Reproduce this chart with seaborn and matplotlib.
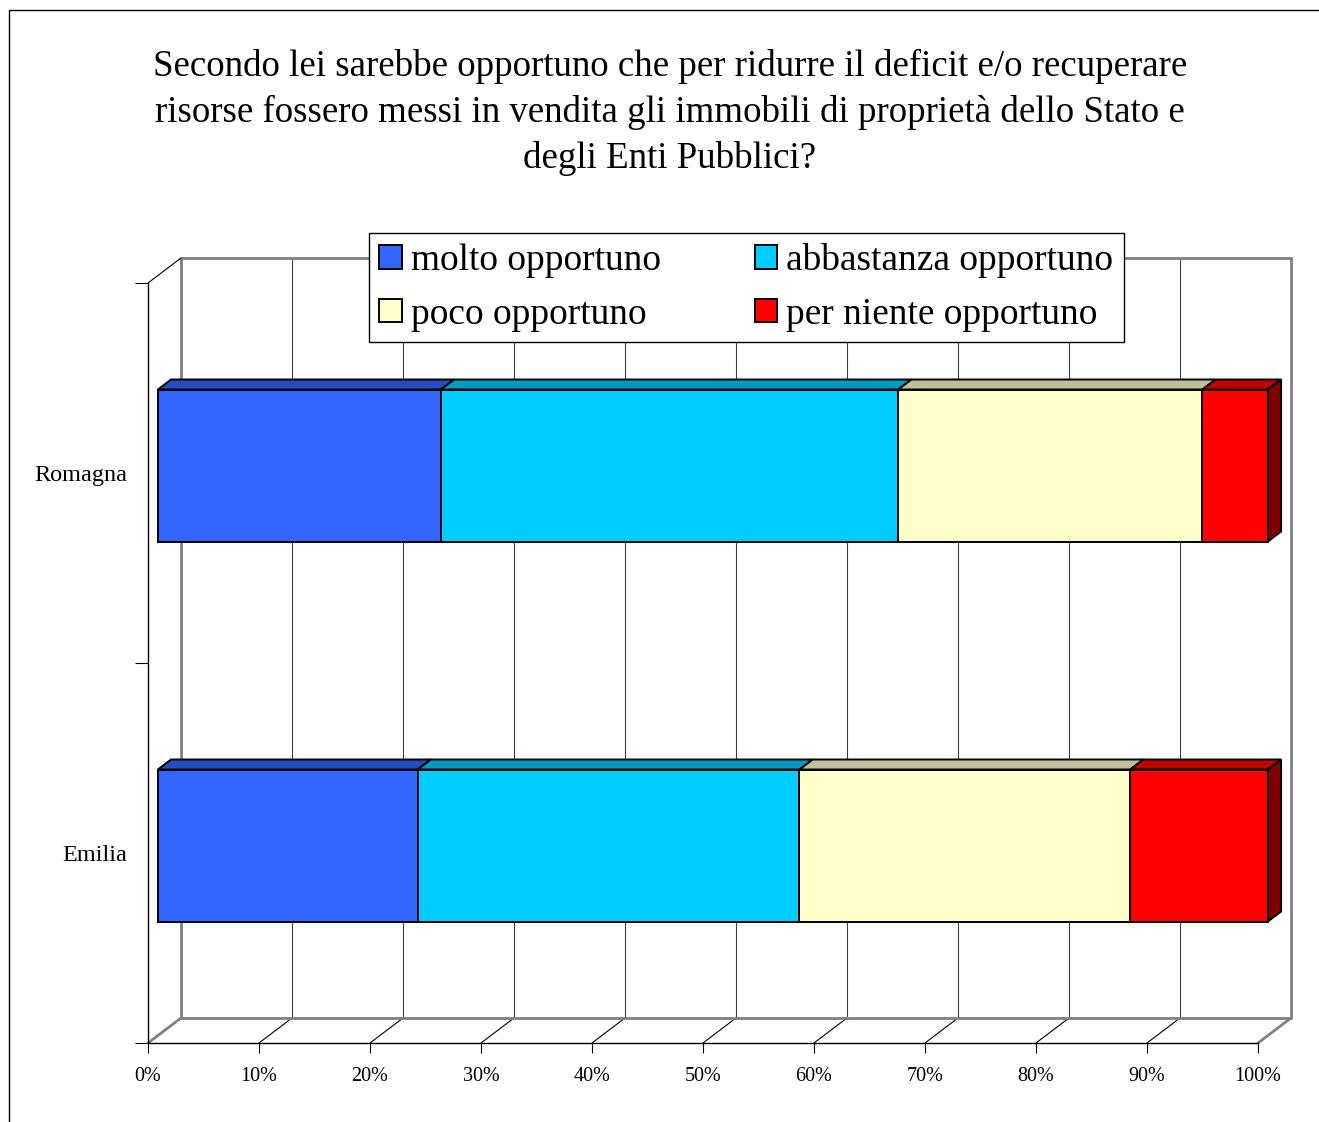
import numpy as np
import pandas as pd
import matplotlib
matplotlib.use("Agg")
import matplotlib.pyplot as plt
import matplotlib.transforms as mtransforms
from matplotlib.patches import Polygon
from matplotlib.lines import Line2D
import seaborn as sns

# ---- data -------------------------------------------------------------
regions = ["Romagna", "Emilia"]
series = ["molto opportuno", "abbastanza opportuno",
          "poco opportuno", "per niente opportuno"]
molto = [25.5, 23.4]
abbastanza = [41.2, 34.4]
poco = [27.4, 29.8]
per_niente = [5.9, 12.4]
colors = ["#3366FF", "#00CCFF", "#FFFFCC", "#FF0000"]
x_ticks = [0, 10, 20, 30, 40, 50, 60, 70, 80, 90, 100]
x_tick_labels = [f"{t}%" for t in x_ticks]
title = ("Secondo lei sarebbe opportuno che per ridurre il deficit e/o recuperare\n"
         "risorse fossero messi in vendita gli immobili di proprietà dello Stato e\n"
         "degli Enti Pubblici?")

values = np.array([molto, abbastanza, poco, per_niente])   # series x region
ends = np.cumsum(values, axis=0)
starts = ends - values

sns.set_theme(style="white")
plt.rcParams["font.family"] = ["Liberation Serif", "DejaVu Serif"]
plt.rcParams.update({"text.color": "black", "axes.labelcolor": "black",
                     "xtick.color": "black", "ytick.color": "black"})

W, H, DPI = 1319, 1122, 100
fig = plt.figure(figsize=(W / DPI, H / DPI), dpi=DPI)
ax = fig.add_axes([148 / W, 1 - 1043 / H, 1110 / W, 760 / H])

# stacked front faces: draw cumulative totals from the longest down
for i in reversed(range(len(series))):
    df = pd.DataFrame({"region": regions, "value": ends[i]})
    sns.barplot(data=df, x="value", y="region", order=regions, orient="h",
                color=colors[i], saturation=1, width=0.4, edgecolor="black",
                linewidth=1.4, label=series[i], ax=ax, zorder=5)

handles, labels = ax.get_legend_handles_labels()
if ax.get_legend() is not None:
    ax.get_legend().remove()

ax.set_xlim(0, 100)
ax.set_ylim(1.5, -0.5)

# depth vector of the 3D box, in data units
p0 = ax.transData.transform((0, 1.5))
inv = ax.transData.inverted()
dx, dy = inv.transform(p0 + np.array([33, 25])) - np.array([0, 1.5])
f_front, f_back = 0.3, 0.7

shift = mtransforms.Affine2D().translate(f_front * dx, f_front * dy) + ax.transData
for p in ax.patches:
    p.set_transform(shift)
    p.set_clip_on(False)


def darker(c, k):
    r, g, b = matplotlib.colors.to_rgb(c)
    return (r * k, g * k, b * k)


half = 0.2
for i in range(len(series)):
    for j in range(len(regions)):
        x0, x1 = starts[i, j], ends[i, j]
        yt, yb = j - half, j + half
        top = [(x0 + f_front * dx, yt + f_front * dy), (x1 + f_front * dx, yt + f_front * dy),
               (x1 + f_back * dx, yt + f_back * dy), (x0 + f_back * dx, yt + f_back * dy)]
        ax.add_patch(Polygon(top, closed=True, facecolor=darker(colors[i], 0.75),
                             edgecolor="black", linewidth=1.4, zorder=4,
                             clip_on=False))
        if i == len(series) - 1:
            side = [(x1 + f_front * dx, yt + f_front * dy), (x1 + f_back * dx, yt + f_back * dy),
                    (x1 + f_back * dx, yb + f_back * dy), (x1 + f_front * dx, yb + f_front * dy)]
            ax.add_patch(Polygon(side, closed=True, facecolor=darker(colors[i], 0.5),
                                 edgecolor="black", linewidth=1.4, zorder=4,
                                 clip_on=False))

# walls, floor and gridlines of the box
wall = "#808080"
grid = "#404040"
ylo, yhi = -0.5, 1.5
for t in x_ticks:
    edge = t in (0, 100)
    ax.add_line(Line2D([t + dx, t + dx], [ylo + dy, yhi + dy],
                       color=wall if edge else grid,
                       lw=2.0 if edge else 0.8, zorder=1, clip_on=False))
    ax.add_line(Line2D([t, t + dx], [yhi, yhi + dy],
                       color=wall if edge else "black",
                       lw=2.0 if edge else 0.8, zorder=1, clip_on=False))
ax.add_line(Line2D([dx, 100 + dx], [ylo + dy, ylo + dy], color=wall, lw=2.0,
                   zorder=1, clip_on=False))
ax.add_line(Line2D([dx, 100 + dx], [yhi + dy, yhi + dy], color=wall, lw=2.0,
                   zorder=1, clip_on=False))
ax.add_line(Line2D([0, dx], [ylo, ylo + dy], color="black", lw=0.8,
                   zorder=1, clip_on=False))

# axes, ticks and labels
for s in ("top", "right"):
    ax.spines[s].set_visible(False)
for s in ("left", "bottom"):
    ax.spines[s].set_color("black")
    ax.spines[s].set_linewidth(1.0)
    ax.spines[s].set_zorder(2)

ax.set_xticks(x_ticks)
ax.set_xticklabels(x_tick_labels, fontsize=14.5)
ax.tick_params(axis="x", direction="out", length=7.5, width=0.8, color="black",
               pad=10, bottom=True)
ax.set_yticks([0, 1])
ax.set_yticklabels(regions, fontsize=17.5)
ax.set_yticks([-0.5, 0.5, 1.5], minor=True)
ax.tick_params(axis="y", which="major", length=0, pad=15)
ax.tick_params(axis="y", which="minor", direction="out", length=9.5, width=0.8,
               color="black", left=True)
ax.set_xlabel("")
ax.set_ylabel("")
ax.grid(False)
ax.set_facecolor("none")

# legend in two columns
lookup = dict(zip(labels, handles))
order = [series[0], series[2], series[1], series[3]]
leg = fig.legend([lookup[k] for k in order], order, ncol=2,
                 loc="upper left", bbox_to_anchor=(369 / W, 1 - 233 / H),
                 bbox_transform=fig.transFigure, fontsize=26.9, frameon=True,
                 fancybox=False, edgecolor="black", framealpha=1,
                 handlelength=0.6, handleheight=0.6, handletextpad=0.25,
                 columnspacing=2.5, labelspacing=0.5, borderpad=0.28,
                 borderaxespad=0)
leg.get_frame().set_linewidth(1.0)
for h in leg.legend_handles:
    h.set_edgecolor("black")
    h.set_linewidth(1.4)

fig.text(670 / W, 1 - 49 / H, title, ha="center", va="top", fontsize=26.6,
         linespacing=1.4, color="black")

# chart frame
fig.add_artist(Line2D([9 / W, 1], [1 - 10 / H, 1 - 10 / H], color="black",
                      lw=1.0, transform=fig.transFigure))
fig.add_artist(Line2D([9 / W, 9 / W], [1 - 10 / H, 0], color="black",
                      lw=1.0, transform=fig.transFigure))

fig.savefig("out.png", dpi=DPI)
